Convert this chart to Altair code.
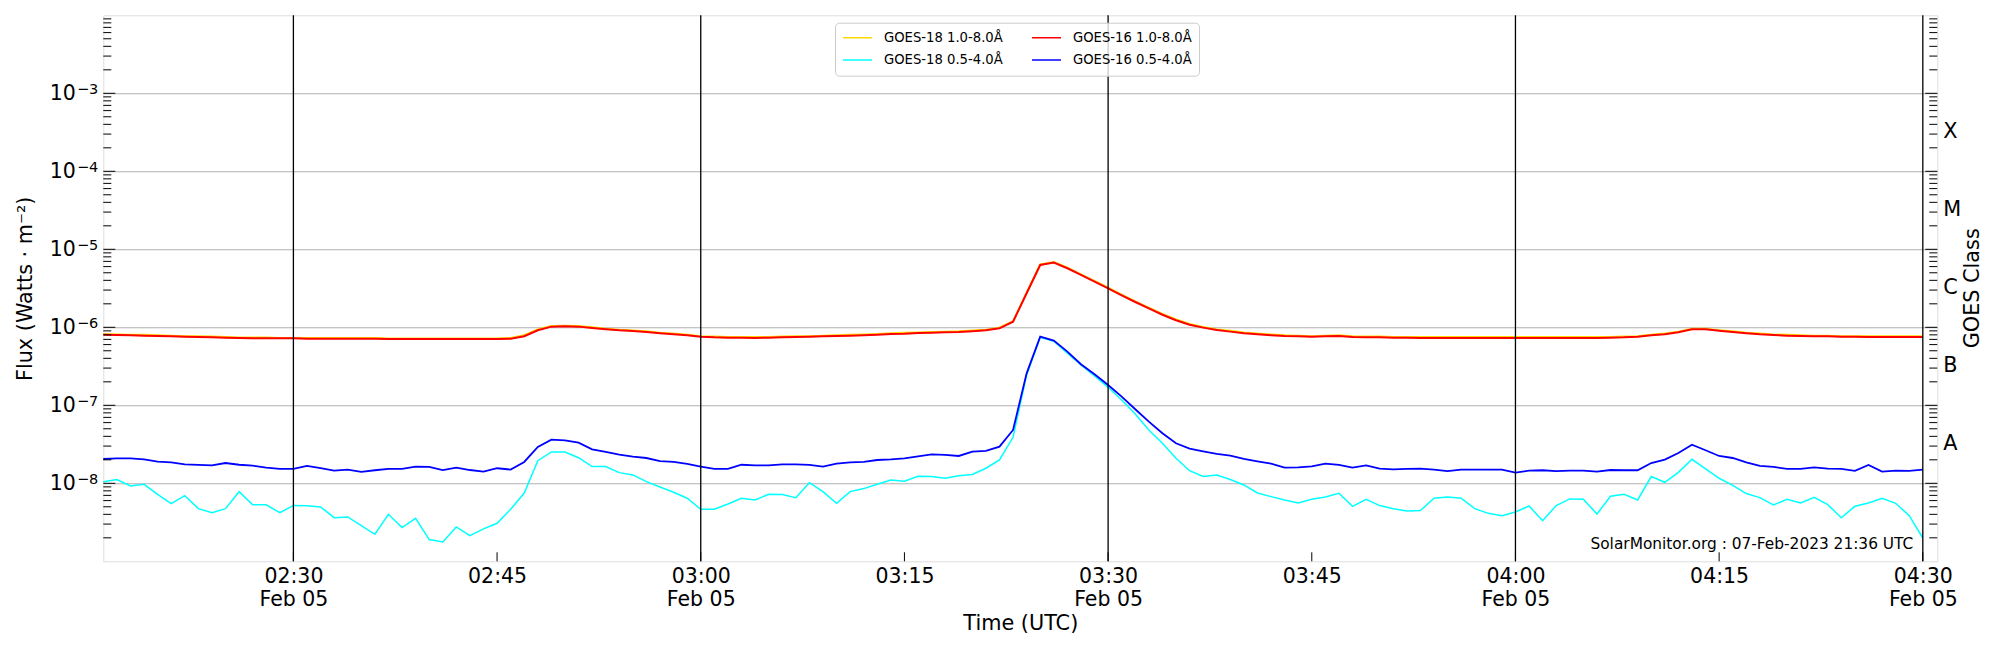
import altair as alt
import pandas as pd

# ---------------- data (1-min samples from 02:16 UTC) ----------------
S18L = "GOES-18 1.0-8.0Å"
S16L = "GOES-16 1.0-8.0Å"
S18S = "GOES-18 0.5-4.0Å"
S16S = "GOES-16 0.5-4.0Å"
# legend fills column by column: column 1 = GOES-18, column 2 = GOES-16
series_names = [S18L, S18S, S16L, S16S]
series_colors = ["#ffd700", "#00ffff", "#ff0000", "#0000ff"]

t0 = pd.Timestamp("2023-02-05 02:16:00")
times = [(t0 + pd.Timedelta(minutes=i)).strftime("%Y-%m-%dT%H:%M:%SZ") for i in range(135)]

# GOES-16 1.0-8.0 A, units of 1e-6 W m^-2
goes16_long_e6 = [
    0.805, 0.797, 0.790, 0.782, 0.774, 0.767, 0.759, 0.752, 0.744, 0.737,
    0.730, 0.722, 0.722, 0.722, 0.722, 0.715, 0.715, 0.715, 0.715, 0.715,
    0.715, 0.708, 0.708, 0.708, 0.708, 0.708, 0.708, 0.708, 0.708, 0.708,
    0.715, 0.767, 0.915, 1.02, 1.03,
    1.02, 0.980, 0.943, 0.915, 0.897, 0.871, 0.838, 0.813, 0.790, 0.759,
    0.744, 0.737, 0.737, 0.730, 0.737, 0.744, 0.752, 0.759, 0.767, 0.774,
    0.782, 0.790, 0.805, 0.821, 0.829, 0.846, 0.854, 0.863, 0.871, 0.889,
    0.915, 0.971, 1.18,
    2.73, 6.30, 6.75, 5.71, 4.69, 3.85, 3.16, 2.57, 2.11, 1.75,
    1.45, 1.23, 1.08, 0.990, 0.924, 0.880, 0.838, 0.813, 0.790, 0.774,
    0.767, 0.759, 0.767, 0.774, 0.752, 0.744, 0.744, 0.737, 0.737, 0.730,
    0.730, 0.730, 0.730,
    0.730, 0.730, 0.730, 0.730, 0.730, 0.730, 0.730, 0.730, 0.730, 0.730,
    0.737, 0.744, 0.759, 0.790, 0.813, 0.863, 0.943, 0.943, 0.906, 0.871,
    0.838, 0.813, 0.797, 0.782, 0.774, 0.767, 0.767, 0.759, 0.759, 0.752,
    0.752, 0.752, 0.752, 0.752,
]

# GOES-18 1.0-8.0 A, units of 1e-6 W m^-2
goes18_long_e6 = [
    0.82, 0.81, 0.80, 0.80, 0.79, 0.78, 0.77, 0.77, 0.76, 0.75,
    0.74, 0.74, 0.74, 0.73, 0.73, 0.73, 0.73, 0.73, 0.73, 0.73,
    0.73, 0.72, 0.72, 0.72, 0.72, 0.72, 0.72, 0.72, 0.72, 0.72,
    0.73, 0.79, 0.94, 1.04, 1.05,
    1.04, 1.00, 0.96, 0.93, 0.91, 0.89, 0.85, 0.83, 0.80, 0.77,
    0.76, 0.75, 0.75, 0.75, 0.75, 0.76, 0.77, 0.77, 0.78, 0.79,
    0.80, 0.81, 0.82, 0.84, 0.85, 0.86, 0.87, 0.88, 0.89, 0.91,
    0.93, 0.99, 1.20,
    2.78, 6.40, 6.85, 5.80, 4.77, 3.92, 3.22, 2.62, 2.15, 1.78,
    1.48, 1.26, 1.10, 1.01, 0.94, 0.90, 0.86, 0.83, 0.81, 0.79,
    0.78, 0.77, 0.78, 0.79, 0.77, 0.76, 0.76, 0.75, 0.75, 0.75,
    0.75, 0.75, 0.75,
    0.75, 0.75, 0.75, 0.75, 0.75, 0.75, 0.75, 0.75, 0.75, 0.75,
    0.75, 0.76, 0.77, 0.80, 0.83, 0.88, 0.96, 0.96, 0.92, 0.89,
    0.85, 0.83, 0.81, 0.80, 0.79, 0.78, 0.78, 0.77, 0.77, 0.77,
    0.77, 0.77, 0.77, 0.77,
]

# GOES-16 0.5-4.0 A, units of 1e-8 W m^-2
goes16_short_e8 = [
    2.05, 2.09, 2.09, 2.03, 1.90, 1.86, 1.75, 1.72, 1.70, 1.82,
    1.73, 1.68, 1.59, 1.53, 1.53, 1.67, 1.57, 1.45, 1.50, 1.40,
    1.47, 1.53, 1.53, 1.64, 1.62, 1.48, 1.59, 1.48, 1.41, 1.56,
    1.50, 1.88, 2.92, 3.63, 3.56,
    3.32, 2.73, 2.52, 2.33, 2.20, 2.11, 1.93, 1.88, 1.77, 1.64,
    1.53, 1.53, 1.73, 1.70, 1.70, 1.75, 1.75, 1.72, 1.64, 1.79,
    1.86, 1.88, 1.99, 2.03, 2.09, 2.22, 2.35, 2.31, 2.24, 2.55,
    2.60, 2.95, 4.83,
    25.7, 75.9, 67.5, 48.8, 33.6, 25.0, 18.2, 12.9, 8.89, 6.18,
    4.38, 3.26, 2.78, 2.57, 2.38, 2.26, 2.05, 1.91, 1.79, 1.59,
    1.60, 1.65, 1.79, 1.72, 1.59, 1.70, 1.54, 1.51, 1.53, 1.54,
    1.50, 1.43, 1.50,
    1.50, 1.50, 1.50, 1.37, 1.45, 1.47, 1.43, 1.45, 1.45, 1.41,
    1.48, 1.47, 1.47, 1.82, 2.01, 2.45, 3.13, 2.65, 2.24, 2.11,
    1.86, 1.67, 1.62, 1.53, 1.53, 1.60, 1.54, 1.53, 1.44, 1.72,
    1.41, 1.45, 1.44, 1.50,
]

# GOES-18 0.5-4.0 A, units of 1e-9 W m^-2
goes18_short_e9 = [
    10.5, 11.2, 9.25, 9.7, 7.2, 5.5, 6.95, 4.73, 4.2, 4.73,
    7.8, 5.3, 5.3, 4.2, 5.2, 5.15, 4.98, 3.63, 3.7, 2.86,
    2.22, 4.0, 2.7, 3.56, 1.9, 1.77, 2.76, 2.13, 2.6, 3.07,
    4.64, 7.5, 19.5, 25.2, 25.2,
    21.3, 16.4, 16.4, 13.7, 12.8, 10.5, 8.97, 7.67, 6.43, 4.65,
    4.65, 5.43, 6.43, 6.1, 7.23, 7.16, 6.55, 10.2, 7.82, 5.54,
    7.82, 8.55, 9.7, 11.0, 10.6, 12.3, 12.2, 11.6, 12.5, 13.0,
    15.6, 19.9, 38.9,
    245, 744, 662, 464, 329, 238, 170, 117, 77.4, 48.3,
    32.6, 20.9, 14.5, 12.2, 12.8, 11.2, 9.52, 7.52, 6.75, 6.11,
    5.6, 6.24, 6.68, 7.45, 5.07, 6.24, 5.18, 4.73, 4.42, 4.47,
    6.43, 6.68, 6.43,
    4.73, 4.12, 3.85, 4.29, 5.12, 3.32, 5.18, 6.30, 6.24, 4.04,
    6.81, 7.23, 6.11, 12.2, 10.3, 13.8, 20.3, 15.3, 11.6, 9.42,
    7.38, 6.55, 5.27, 6.24, 5.6, 6.62, 5.32, 3.62, 5.07, 5.6,
    6.43, 5.54, 3.85, 1.99,
]

class_letters = ["X", "M", "C", "B", "A"]
class_exponents = [-3.5, -4.5, -5.5, -6.5, -7.5]
decade_exponents = [-3, -4, -5, -6, -7, -8]
decade_exponent_text = ["−3", "−4", "−5", "−6", "−7", "−8"]
footer_text = "SolarMonitor.org : 07-Feb-2023 21:36 UTC"

# ---------------- frames ----------------
def series_frame(name, vals, unit):
    assert len(vals) == len(times), (name, len(vals))
    return pd.DataFrame({"time": times, "flux": [v * unit for v in vals], "series": name})

df18L = series_frame(S18L, goes18_long_e6, 1e-6)
df18S = series_frame(S18S, goes18_short_e9, 1e-9)
df16L = series_frame(S16L, goes16_long_e6, 1e-6)
df16S = series_frame(S16S, goes16_short_e8, 1e-8)

W, H = 1834, 546
FONT = "DejaVu Sans"

def dt(h, m, s=0):
    return alt.DateTime(year=2023, month=2, date=5, hours=h, minutes=m, seconds=s, utc=True)

tick_hm = [(2, 30), (2, 45), (3, 0), (3, 15), (3, 30), (3, 45), (4, 0), (4, 15), (4, 30)]
tick_times = ["2023-02-05T%02d:%02d:00Z" % hm for hm in tick_hm]
vline_times = ["2023-02-05T%02d:%02d:00Z" % (h, m) for h, m in tick_hm if m in (0, 30)]

x_scale = alt.Scale(type="utc", domain=[dt(2, 16), dt(4, 31, 4)], nice=False)
y_scale = alt.Scale(type="log", domain=[1e-9, 1e-2], nice=False)

x_axis = alt.Axis(
    values=[dt(h, m) for h, m in tick_hm],
    labelExpr=("utcminutes(datum.value) % 30 == 0 ? "
               "[utcFormat(datum.value, '%H:%M'), utcFormat(datum.value, '%b %d')] : "
               "utcFormat(datum.value, '%H:%M')"),
    labelFontSize=20.5, labelLineHeight=23, labelPadding=5, labelBaseline="top",
    labelFlush=False, labelOverlap=False, labelColor="black",
    ticks=False, tickSize=0, domain=False, grid=False,
    titleFontSize=20.8, titleFontWeight="normal", titleColor="black",
    titleX=W / 2, titleY=62.7, titleAlign="center", titleBaseline="middle",
)

# mantissa "10" on the axis; the exponent is drawn as a raised, smaller text next to it
y_axis = alt.Axis(
    values=[10.0 ** e for e in decade_exponents],
    labelExpr="'10'", labelFontSize=20.5, labelPadding=28, labelOverlap=False, labelColor="black",
    ticks=False, tickSize=0, domain=False,
    grid=True, gridColor="#b0b0b0", gridWidth=1.1,
    titleFontSize=20.8, titleFontWeight="normal", titleColor="black",
    titleAngle=270, titleX=-78.3, titleY=H / 2, titleAlign="center", titleBaseline="middle",
)

X_TITLE = "Time (UTC)"
Y_TITLE = "Flux (Watts · m⁻²)"

def X(field):
    return alt.X(f"{field}:T", scale=x_scale, axis=x_axis, title=X_TITLE)

def Y(field):
    return alt.Y(f"{field}:Q", scale=y_scale, axis=y_axis, title=Y_TITLE)

color_scale = alt.Scale(domain=series_names, range=series_colors)
legend = alt.Legend(
    title=None, orient="none", legendX=731.7, legendY=7.4, columns=2,
    symbolType="stroke", symbolSize=841, symbolStrokeWidth=1.5,
    labelFontSize=13.2, labelFont=FONT, labelColor="black",
    labelOffset=11, columnPadding=28, rowPadding=6.3, padding=7, clipHeight=16,
    fillColor="rgba(255,255,255,0.8)", strokeColor="#cccccc", cornerRadius=4,
)

def line_layer(frame, width):
    return alt.Chart(frame).mark_line(strokeWidth=width).encode(
        x=X("time"), y=Y("flux"),
        color=alt.Color("series:N", scale=color_scale, legend=legend),
    )

lines = [
    line_layer(df18L, 2.0),
    line_layer(df18S, 1.5),
    line_layer(df16L, 2.0),
    line_layer(df16S, 1.8),
]

vlines = alt.Chart(pd.DataFrame({"t": vline_times})).mark_rule(color="black", strokeWidth=1.3).encode(x=X("t"))

minor_vals = [k * 10.0 ** e for e in range(-9, -2) for k in range(2, 10)]
major_vals = [10.0 ** e for e in range(-8, -2)]
minor_df = pd.DataFrame({"v": minor_vals})
major_df = pd.DataFrame({"v": major_vals})

tick_layers = [
    alt.Chart(minor_df).mark_rule(color="black", strokeWidth=1).encode(y=Y("v"), x=alt.value(0), x2=alt.value(8)),
    alt.Chart(major_df).mark_rule(color="black", strokeWidth=1).encode(y=Y("v"), x=alt.value(0), x2=alt.value(12)),
    alt.Chart(minor_df).mark_rule(color="black", strokeWidth=1).encode(y=Y("v"), x=alt.value(W - 8), x2=alt.value(W)),
    alt.Chart(major_df).mark_rule(color="black", strokeWidth=1).encode(y=Y("v"), x=alt.value(W - 12), x2=alt.value(W)),
    alt.Chart(pd.DataFrame({"t": tick_times})).mark_rule(color="black", strokeWidth=1).encode(
        x=X("t"), y=alt.value(H - 9), y2=alt.value(H)),
]

exp_df = pd.DataFrame({"v": [10.0 ** e for e in decade_exponents], "txt": decade_exponent_text})
exp_text = alt.Chart(exp_df).mark_text(
    align="right", baseline="alphabetic", dy=1, fontSize=14.5, font=FONT, color="black"
).encode(y=Y("v"), x=alt.value(-5), text="txt:N")

class_df = pd.DataFrame({"v": [10 ** e for e in class_exponents], "cls": class_letters})
class_text = alt.Chart(class_df).mark_text(
    align="left", baseline="middle", fontSize=20.8, font=FONT, color="black"
).encode(y=Y("v"), x=alt.value(W + 6), text="cls:N")

class_title = alt.Chart(pd.DataFrame({"label": ["GOES Class"]})).mark_text(
    angle=270, align="center", baseline="middle", fontSize=20.8, font=FONT, color="black"
).encode(x=alt.value(W + 36), y=alt.value(H / 2), text="label:N")

footer = alt.Chart(pd.DataFrame({"label": [footer_text]})).mark_text(
    align="right", baseline="alphabetic", fontSize=15.4, font=FONT, color="black"
).encode(x=alt.value(1810), y=alt.value(533.7), text="label:N")

chart = alt.layer(
    *lines, vlines, *tick_layers, exp_text, class_text, class_title, footer
).properties(
    width=W, height=H,
    padding={"left": 95.3, "top": 7.3, "right": 54, "bottom": 80},
    autosize=alt.AutoSizeParams(type="none"),
).configure_view(
    stroke="black", strokeWidth=1.3
).configure(
    font=FONT
).configure_axis(
    labelFont=FONT, titleFont=FONT
)

chart.save("out.html", embed_options={"renderer": "svg", "actions": False})
